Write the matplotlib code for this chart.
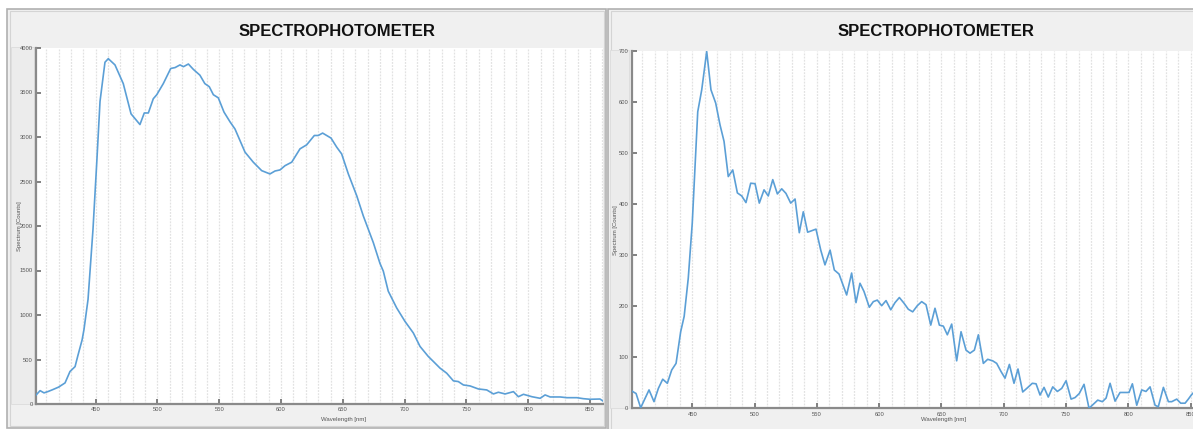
import matplotlib
matplotlib.use("Agg")
import matplotlib.pyplot as plt
from matplotlib.patches import Rectangle

# ---------------- data ----------------
title_text = "SPECTROPHOTOMETER"
x_label = "Wavelength [nm]"
y_label = "Spectrum [Counts]"

xticks = [450, 500, 550, 600, 650, 700, 750, 800, 850]
yticks_left = [0, 500, 1000, 1500, 2000, 2500, 3000, 3500, 4000]
yticks_right = [0, 100, 200, 300, 400, 500, 600, 700]

wl_left = [401.7, 405, 408.2, 411.4, 415, 420, 425.2, 429.2, 433.3, 435.7, 439, 440.5,
           443.8, 447.8, 451, 453.5, 457.5, 460.2, 465.6, 472.3, 478.6, 485.8, 489.3,
           492.6, 496.6, 499.4, 504.7, 510.7, 514.2, 518.2, 521, 525, 529, 534.3, 538.3,
           541.9, 545.2, 549.2, 553.8, 558.7, 562.7, 570.8, 577.5, 584.3, 591.0, 595.1,
           599.1, 603.2, 608.6, 615.3, 620.7, 626.9, 630.1, 633.6, 640.4, 645.0, 649.0,
           654.4, 661.2, 666.5, 674.6, 680, 682.7, 686.7, 693.5, 700.2, 707, 712.4, 719.1,
           723.2, 728.6, 734, 739.4, 743.4, 747.5, 752.9, 759.6, 766.4, 771.8, 775.8, 781.3,
           788, 792, 796.1, 802.9, 809.6, 813.6, 817.7, 825.8, 831.2, 839.3, 844.5, 850,
           858, 861.3]
counts_left = [100, 150, 125, 140, 160, 190, 237, 365, 420, 550, 720, 835,
               1175, 1960, 2750, 3400, 3840, 3880, 3810, 3600, 3260, 3140, 3270,
               3270, 3430, 3475, 3600, 3770, 3780, 3810, 3790, 3820, 3760, 3695, 3600,
               3565, 3475, 3440, 3280, 3170, 3090, 2830, 2717, 2622, 2585, 2618,
               2630, 2678, 2717, 2867, 2912, 3017, 3017, 3044, 2988, 2886, 2810,
               2585, 2340, 2114, 1814, 1580, 1493, 1268, 1080, 929, 798, 647, 534,
               478, 403, 346, 260, 252, 214, 203, 169, 158, 113, 132, 113,
               139, 82, 109, 82, 64, 102, 79, 79, 71, 71, 60, 53,
               56, 26]

wl_right = [401.4, 404.9, 408.6, 415.3, 419.3, 422.8, 426.3, 430, 433.5, 437, 438.8, 440.7,
            443.5, 446.8, 450, 454.4, 457.6, 461.6, 465.0, 468.8, 472.3, 475.5, 478.9, 482.5,
            486.2, 489.7, 493.1, 496.9, 500.4, 503.8, 507.6, 511, 514.6, 518.3, 521.8, 525.2,
            529, 532.5, 535.9, 539.1, 542.6, 546, 549.3, 553.1, 556.5, 560.6, 564, 567.8,
            571.2, 573.9, 577.9, 581.4, 584.6, 587.8, 592.1, 595.3, 598.5, 602, 605.5, 609.3,
            612.7, 616.2, 619.9, 623.4, 626.9, 630.6, 634.1, 637.6, 641.4, 644.8, 648.3, 651.5,
            654.7, 658.2, 662.2, 665.7, 669.7, 672.9, 676.4, 679.6, 683.6, 687.1, 691.1, 694.3,
            697.8, 701, 704.5, 708.2, 711.4, 715.2, 718.9, 722.9, 725.9, 729.1, 732.3, 735.7,
            739.3, 743, 746.5, 750, 754, 757.2, 760.6, 764.4, 768.4, 771.9, 775.4, 779.1,
            782.1, 785.3, 789.3, 793.3, 797.3, 800.5, 803.2, 806.7, 810.7, 814.1, 817.4, 821.4,
            824, 828.1, 832.1, 834.8, 838.8, 842, 845.5, 848.1, 850.8, 854]
counts_right = [34, 29, 1, 36, 13, 39, 57, 49, 75, 88, 118, 150,
                180, 255, 363, 581, 624, 699, 624, 598, 555, 523, 454, 467,
                422, 416, 403, 441, 440, 402, 428, 416, 448, 420, 430, 421,
                402, 410, 344, 385, 345, 348, 351, 310, 281, 310, 271, 263,
                240, 222, 265, 207, 245, 229, 198, 209, 212, 201, 211, 193,
                207, 217, 206, 194, 189, 201, 209, 203, 163, 196, 163, 161,
                144, 165, 93, 150, 114, 108, 114, 144, 88, 96, 93, 88,
                72, 59, 86, 49, 77, 32, 40, 49, 48, 26, 41, 22,
                42, 33, 39, 54, 18, 21, 29, 47, 0, 8, 16, 13,
                20, 49, 14, 31, 31, 31, 48, 6, 36, 33, 42, 6,
                3, 41, 13, 13, 18, 10, 10, 18, 27, 35]

# ---------------- layout ----------------
W, H = 1193, 429
plt.rcParams['font.family'] = ['Liberation Sans', 'DejaVu Sans']
fig = plt.figure(figsize=(W / 100, H / 100), dpi=100, facecolor='white')


def fx(px):
    return px / W


def fy(py):
    return 1 - py / H


def frame(x0, y0, x1, y1, fc, ec, lw=1.0, z=-10):
    fig.patches.append(Rectangle((fx(x0), fy(y1)), fx(x1) - fx(x0), fy(y0) - fy(y1),
                                 transform=fig.transFigure, facecolor=fc, edgecolor=ec,
                                 lw=lw, zorder=z))


# panel frames
frame(7, 9, 606, 428, '#f0f0f0', '#b0b0b0', 1.2, -10)
frame(10, 11, 604, 426, 'none', '#d4d4d4', 0.8, -9)
frame(608, 9, 1200, 430, '#f0f0f0', '#b0b0b0', 1.2, -10)
frame(611, 11, 1200, 430, 'none', '#d4d4d4', 0.8, -9)
# y-label strips
frame(11, 47, 34, 404, '#ececec', '#dcdcdc', 0.6, -8)
frame(610, 50, 629, 408, '#ececec', '#dcdcdc', 0.6, -8)

line_color = '#5b9fd6'
spine_color = '#8a8a8a'


def make_axes(x0, y0, x1, y1, xlim, ylim, yticks, wl, counts, title_cx, xlab_cx, ylab_cx):
    ax = fig.add_axes([fx(x0), fy(y1), fx(x1) - fx(x0), fy(y0) - fy(y1)])
    ax.set_zorder(5)
    ax.set_facecolor('white')
    for g in range(410, 861, 10):
        ax.axvline(g, color='#e2e2e2', lw=0.9, ls=(0, (1.5, 1.0)), zorder=1)
    ax.plot(wl, counts, color=line_color, lw=1.2, zorder=3)
    ax.set_xlim(*xlim)
    ax.set_ylim(*ylim)
    ax.set_xticks(xticks)
    ax.set_yticks(yticks)
    ax.set_xticklabels([str(t) for t in xticks])
    ax.set_yticklabels([str(t) for t in yticks])
    for s in ['top', 'right']:
        ax.spines[s].set_visible(False)
    for s in ['left', 'bottom']:
        ax.spines[s].set_color(spine_color)
        ax.spines[s].set_linewidth(1.6)
    ax.tick_params(direction='in', length=3.5, width=1.3, color='#777777',
                   labelsize=4.2, labelcolor='#555555', pad=2.5)
    fig.text(fx(title_cx), fy(31), title_text, ha='center', va='center',
             fontsize=12, fontweight='bold', color='#111111', zorder=6)
    fig.text(fx(xlab_cx), fy(419), x_label, ha='center', va='center',
             fontsize=4.3, color='#555555', zorder=6)
    fig.text(fx(ylab_cx), fy((y0 + y1) / 2), y_label, ha='center', va='center',
             rotation=90, fontsize=4.3, color='#555555', zorder=6)
    return ax


make_axes(36, 48, 603.3, 404, (401.7, 860.7), (0, 4000), yticks_left,
          wl_left, counts_left, 336.5, 344, 19.3)
make_axes(631.7, 51, 1204.4, 408.3, (401.4, 861), (0, 700), yticks_right,
          wl_right, counts_right, 936, 943.7, 616)

fig.savefig('out.png', dpi=100, facecolor='white')
